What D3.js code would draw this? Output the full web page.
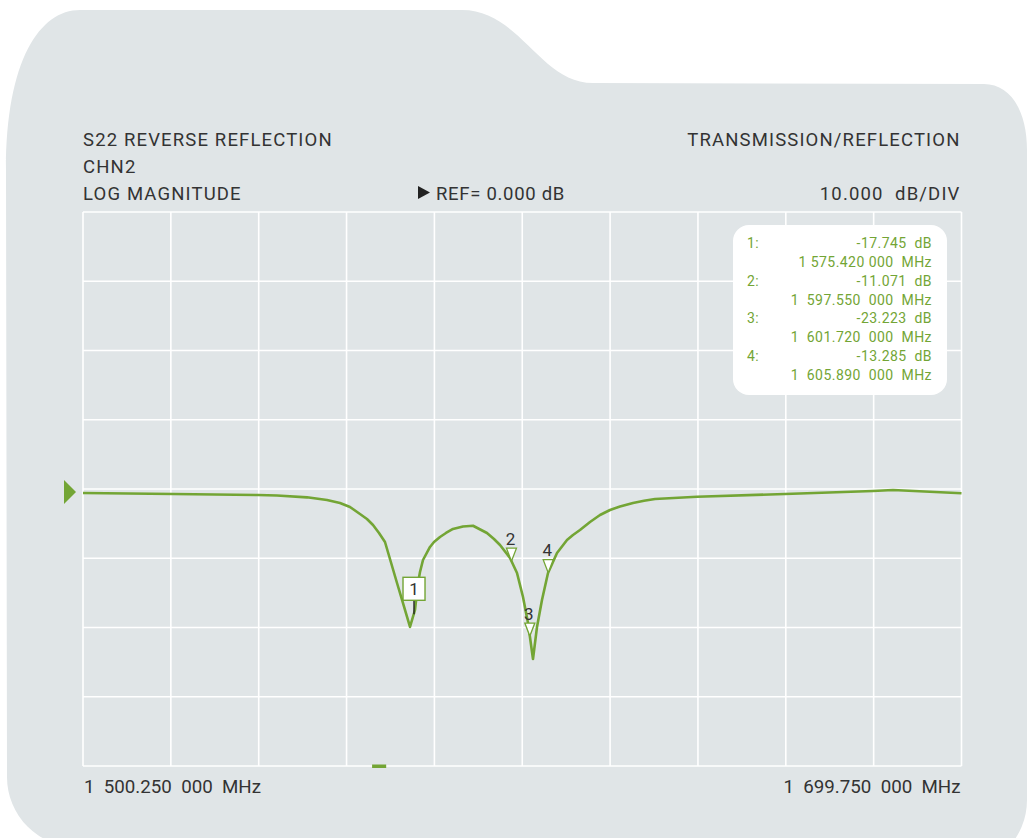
<!DOCTYPE html>
<html>
<head>
<meta charset="utf-8">
<script src="https://cdn.jsdelivr.net/npm/d3@7"></script>
<style>
  body { margin: 0; background: #fff; }
  svg { display: block; font-family: Roboto, "DejaVu Sans", sans-serif; }
</style>
</head>
<body>
<div id="chart"></div>
<script>
// sweep (MHz) and trace (dB)
const freqMHz = [1500.25, 1520.69, 1539.99, 1544.31, 1551.12, 1555.66, 1558.61, 1560.88,
  1563.15, 1564.74, 1566.11, 1567.47, 1568.83, 1571.56, 1572.92, 1574.51, 1575.64,
  1576.33, 1576.78, 1577.46, 1579.05, 1579.96, 1581.32, 1582.68, 1584.27, 1586.54,
  1588.82, 1591.99, 1593.58, 1594.95, 1597.22, 1598.81, 1600.17, 1601.31,
  1602.44, 1603.35, 1604.48, 1605.85, 1607.89, 1610.16, 1611.52, 1613.11, 1615.39,
  1617.66, 1619.93, 1622.20, 1625.15, 1627.65, 1630.15, 1639.68, 1659.67, 1679.65,
  1684.19, 1699.75];
const traceDb = [-0.14, -0.29, -0.43, -0.51, -0.77, -1.16, -1.59, -2.17,
  -3.18, -3.90, -4.77, -5.92, -7.22, -13.14, -16.03, -19.49, -17.04,
  -13.14, -11.55, -9.82, -7.94, -7.22, -6.50, -5.92, -5.34, -4.98,
  -4.87, -5.92, -6.79, -7.65, -9.53, -11.70, -15.16, -18.92,
  -24.12, -19.49, -15.60, -11.70, -8.81, -6.93, -6.21, -5.49, -4.33,
  -3.32, -2.60, -2.09, -1.59, -1.27, -1.01, -0.68, -0.29, 0.14,
  0.29, -0.19];

// markers
const markerIds = [1, 2, 3, 4];
const markerFreqMHz = [1575.42, 1597.55, 1601.72, 1605.89];
const markerDb = [-17.745, -11.071, -23.223, -13.285];
const activeMarker = 1;

// screen settings
const startMHz = 1500.25, stopMHz = 1699.75;
const refDb = 0, dbPerDiv = 10;
const xDivs = 10, yDivs = 8;
const headerLeft = ['S22 REVERSE REFLECTION', 'CHN2', 'LOG MAGNITUDE'];
const headerRight = ['TRANSMISSION/REFLECTION', '10.000  dB/DIV'];
const refLabel = 'REF= 0.000 dB';
const bandMHz = [1565.9, 1569.1]; // little green bar under the grid

const green = '#73a535', grey = '#e0e5e7', ink = '#333';

const width = 1028, height = 838;
const pLeft = 83, pRight = 961.5, pTop = 212, pBottom = 766;

const svg = d3.select('#chart').append('svg')
    .attr('width', width)
    .attr('height', height);

// background tab shape
svg.append('path')
  .attr('fill', grey)
  .attr('d', 'M6,170 C6,60 40,10 80,10 L462,10 C520,10 540,83 593,83 L984,84 ' +
             'C1010,84 1027,110 1027,150 L1027,800 A70,70 0 0 1 957,870 ' +
             'L77,847 A70,70 0 0 1 7,777 Z');

const x = d3.scaleLinear().domain([startMHz, stopMHz]).range([pLeft, pRight]);
// ref line sits a few px under the centre grid line on the screen
const refY = 492;
const pxPerDb = (pBottom - pTop) / (yDivs * dbPerDiv);
const y = d3.scaleLinear().domain([refDb, refDb - 1]).range([refY, refY + pxPerDb]);

const gx = d3.scaleLinear().domain([0, xDivs]).range([pLeft, pRight]);
const gy = d3.scaleLinear().domain([0, yDivs]).range([pTop, pBottom]);

// grid
const grid = svg.append('g').attr('stroke', '#fff').attr('stroke-width', 1.6);
grid.selectAll('.v').data(d3.range(xDivs + 1)).enter().append('line')
    .attr('x1', d => gx(d)).attr('x2', d => gx(d))
    .attr('y1', pTop).attr('y2', pBottom);
grid.selectAll('.h').data(d3.range(yDivs + 1)).enter().append('line')
    .attr('y1', d => gy(d)).attr('y2', d => gy(d))
    .attr('x1', pLeft).attr('x2', pRight);

// header texts
const head = svg.append('g')
    .attr('font-size', 18.5).attr('fill', ink)
    .attr('letter-spacing', 1.15);
head.selectAll('.hl').data(headerLeft).enter().append('text')
    .attr('x', pLeft).attr('y', (d, i) => 146 + i * 27)
    .text(d => d);
head.append('text')
    .attr('x', pRight - 1).attr('y', 146)
    .attr('text-anchor', 'end')
    .text(headerRight[0]);
head.append('text')
    .attr('x', pRight - 1).attr('y', 200)
    .attr('text-anchor', 'end')
    .style('white-space', 'pre')
    .text(headerRight[1]);
svg.append('path')
    .attr('d', 'M418,186 L430,192.5 L418,199 Z').attr('fill', '#222');
head.append('text')
    .attr('x', 436).attr('y', 200)
    .attr('letter-spacing', 0.7)
    .text(refLabel);

// ref arrow
svg.append('path')
    .attr('fill', green)
    .attr('d', `M64,${y(refDb) - 12} L76,${y(refDb)} L64,${y(refDb) + 12} Z`);

// band bar
svg.append('rect')
    .attr('x', x(bandMHz[0])).attr('width', x(bandMHz[1]) - x(bandMHz[0]))
    .attr('y', pBottom - 1.5).attr('height', 3.5)
    .attr('fill', green);

// trace
const trace = freqMHz.map((f, i) => ({ f: f, db: traceDb[i] }));
const line = d3.line()
    .x(d => x(d.f))
    .y(d => y(d.db));
svg.append('path')
    .datum(trace)
    .attr('fill', 'none')
    .attr('stroke', green)
    .attr('stroke-width', 2.6)
    .attr('stroke-linejoin', 'round')
    .attr('d', line);

// markers sit on the trace
const bis = d3.bisector(d => d.f).left;
function traceAt(f) {
  const i = bis(trace, f);
  const a = trace[i - 1], b = trace[i];
  return a.db + (b.db - a.db) * (f - a.f) / (b.f - a.f);
}

markerIds.forEach((id, i) => {
  const mx = x(markerFreqMHz[i]);
  const my = y(traceAt(markerFreqMHz[i]));
  const g = svg.append('g');
  if (id === activeMarker) {
    g.append('line')
      .attr('x1', mx).attr('x2', mx).attr('y1', my - 13).attr('y2', my + 1)
      .attr('stroke', '#222').attr('stroke-width', 1.4);
    g.append('rect')
      .attr('x', mx - 11).attr('y', my - 36).attr('width', 22).attr('height', 23)
      .attr('fill', '#fff').attr('stroke', green).attr('stroke-width', 1.4);
    g.append('text')
      .attr('x', mx).attr('y', my - 18).attr('text-anchor', 'middle')
      .attr('font-size', 17).attr('fill', ink).text(id);
  } else {
    g.append('path')
      .attr('d', `M${mx - 5},${my - 13} L${mx + 5},${my - 13} L${mx},${my} Z`)
      .attr('fill', '#fff').attr('stroke', green).attr('stroke-width', 1.3);
    g.append('text')
      .attr('x', mx - 1).attr('y', my - 16.5).attr('text-anchor', 'middle')
      .attr('font-size', 17).attr('fill', ink).text(id);
  }
});

// marker readout box
const box = svg.append('g')
    .attr('font-size', 14).attr('fill', green)
    .attr('letter-spacing', 0.45);
box.append('rect')
    .attr('x', 733).attr('y', 225).attr('width', 214).attr('height', 170)
    .attr('rx', 16).attr('fill', '#fff');

function fmtFreq(f, id) {
  const s = f.toFixed(3).split('.');
  const mhz = s[0].slice(1) + '.' + s[1];
  const gap = id === activeMarker ? ' ' : '  ';
  return s[0][0] + gap + mhz + gap + '000  MHz';
}

const lineH = 18.86;
markerIds.forEach((id, i) => {
  const by = 248 + i * 2 * lineH;
  box.append('text')
    .attr('x', 747).attr('y', by)
    .text(id + ':');
  box.append('text')
    .attr('x', 932).attr('y', by)
    .attr('text-anchor', 'end').style('white-space', 'pre')
    .text(markerDb[i].toFixed(3) + '  dB');
  box.append('text')
    .attr('x', 932).attr('y', by + lineH)
    .attr('text-anchor', 'end').style('white-space', 'pre')
    .text(fmtFreq(markerFreqMHz[i], id));
});

// start / stop labels
function fmtEdge(f) {
  const s = f.toFixed(3).split('.');
  return s[0][0] + '  ' + s[0].slice(1) + '.' + s[1] + '  000  MHz';
}
svg.append('text')
    .attr('x', x(startMHz) + 1).attr('y', 793)
    .attr('font-size', 18).attr('fill', ink)
    .attr('textLength', 177).attr('lengthAdjust', 'spacingAndGlyphs')
    .style('white-space', 'pre')
    .text(fmtEdge(startMHz));
svg.append('text')
    .attr('x', x(stopMHz) - 178).attr('y', 793)
    .attr('font-size', 18).attr('fill', ink)
    .attr('textLength', 177).attr('lengthAdjust', 'spacingAndGlyphs')
    .style('white-space', 'pre')
    .text(fmtEdge(stopMHz));
</script>
</body>
</html>
